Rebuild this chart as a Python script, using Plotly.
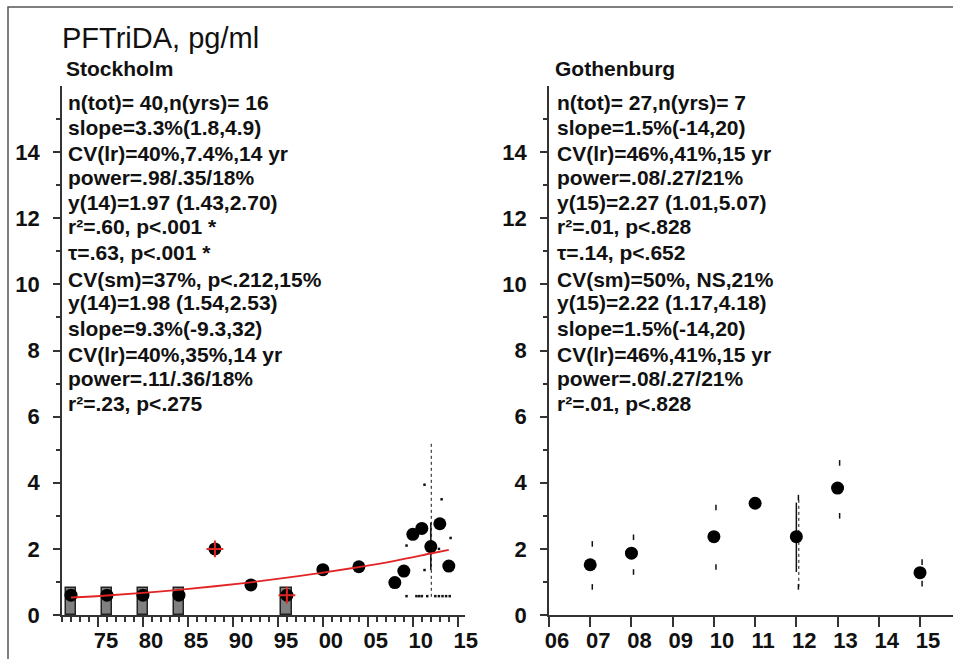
import plotly.graph_objects as go

# ---- data (PFTriDA, pg/ml) ----
# Stockholm yearly means
sth_years = [1972, 1976, 1980, 1984, 1988, 1992, 1996, 2000, 2004,
             2008, 2009, 2010, 2011, 2012, 2013, 2014]
sth_means = [0.60, 0.60, 0.60, 0.60, 2.00, 0.91, 0.60, 1.37, 1.46,
             0.98, 1.33, 2.44, 2.62, 2.07, 2.76, 1.48]
# grey bars (years below LOQ)
sth_loq_years = [1972, 1976, 1980, 1984, 1996]
sth_loq_vals = [0.82, 0.82, 0.82, 0.82, 0.82]
# points marked with a red cross
sth_flag_years = [1988, 1996]
sth_flag_vals = [2.00, 0.60]
# red regression curve
sth_fit_years = [1972, 1976, 1980, 1984, 1988, 1992, 1996, 2000, 2004, 2008, 2012, 2014]
sth_fit_vals = [0.53, 0.59, 0.67, 0.76, 0.87, 0.99, 1.13, 1.28, 1.45, 1.64, 1.86, 1.97]
# 2012 spread: confidence interval and min/max of single samples
sth_ci_years = [2012, 2012]
sth_ci_vals = [1.36, 2.80]
sth_span_years = [2012.05, 2012.05]
sth_span_vals = [0.55, 5.20]
# single observations shown as tiny marks
sth_obs_years = [2009.3, 2011.3, 2011.3, 2013.2, 2014.2, 2012.9, 2009.3, 2010.4,
                 2010.7, 2011.0, 2011.6, 2012.5, 2012.9, 2013.3, 2013.7, 2014.1]
sth_obs_vals = [2.10, 3.94, 1.36, 3.50, 2.33, 2.00, 0.57, 0.57,
                0.57, 0.57, 0.57, 0.57, 0.57, 0.57, 0.57, 0.57]

# Gothenburg yearly means and interval marks
gbg_years = [2007, 2008, 2010, 2011, 2012, 2013, 2015]
gbg_means = [1.52, 1.87, 2.37, 3.38, 2.37, 3.84, 1.28]
gbg_hi = [2.15, 2.35, 3.25, None, 3.55, 4.60, 1.60]
gbg_lo = [0.85, 1.30, 1.45, None, 0.85, 3.00, 0.95]
gbg_ci_years = [2012, 2012]
gbg_ci_vals = [1.30, 3.40]

# axis ticks
y_ticks = [0, 2, 4, 6, 8, 10, 12, 14]
y_minor = [1, 3, 5, 7, 9, 11, 13, 15]
sth_xticks = [1975, 1980, 1985, 1990, 1995, 2000, 2005, 2010, 2015]
sth_xlabels = ["75", "80", "85", "90", "95", "00", "05", "10", "15"]
gbg_xticks = [2006, 2007, 2008, 2009, 2010, 2011, 2012, 2013, 2014, 2015]
gbg_xlabels = ["06", "07", "08", "09", "10", "11", "12", "13", "14", "15"]

sth_stats = ["n(tot)= 40,n(yrs)= 16", "slope=3.3%(1.8,4.9)", "CV(lr)=40%,7.4%,14 yr",
             "power=.98/.35/18%", "y(14)=1.97 (1.43,2.70)", "r²=.60, p<.001 *",
             "τ=.63, p<.001 *", "CV(sm)=37%, p<.212,15%", "y(14)=1.98 (1.54,2.53)",
             "slope=9.3%(-9.3,32)", "CV(lr)=40%,35%,14 yr", "power=.11/.36/18%",
             "r²=.23, p<.275"]
gbg_stats = ["n(tot)= 27,n(yrs)= 7", "slope=1.5%(-14,20)", "CV(lr)=46%,41%,15 yr",
             "power=.08/.27/21%", "y(15)=2.27 (1.01,5.07)", "r²=.01, p<.828",
             "τ=.14, p<.652", "CV(sm)=50%, NS,21%", "y(15)=2.22 (1.17,4.18)",
             "slope=1.5%(-14,20)", "CV(lr)=46%,41%,15 yr", "power=.08/.27/21%",
             "r²=.01, p<.828"]

W, H = 953, 659
FONT = "Liberation Sans, Arial, sans-serif"
AX = "#333333"


def px(x):
    return x / W


def py(y):
    return 1 - y / H


fig = go.Figure()

# ---- Stockholm ----
fig.add_trace(go.Bar(x=sth_loq_years, y=sth_loq_vals, width=1.2,
                     marker=dict(color="#808080", line=dict(color="#222222", width=1.5)),
                     xaxis="x", yaxis="y"))
fig.add_trace(go.Scatter(x=sth_span_years, y=sth_span_vals, mode="lines",
                         line=dict(color="#111111", width=1, dash="dot"),
                         xaxis="x", yaxis="y"))
fig.add_trace(go.Scatter(x=sth_ci_years, y=sth_ci_vals, mode="lines",
                         line=dict(color="#111111", width=1.5), xaxis="x", yaxis="y"))
fig.add_trace(go.Scatter(x=sth_obs_years, y=sth_obs_vals, mode="markers",
                         marker=dict(symbol="square", size=2.5, color="#111111"),
                         xaxis="x", yaxis="y"))
fig.add_trace(go.Scatter(x=sth_years, y=sth_means, mode="markers",
                         marker=dict(size=13, color="#000000"), xaxis="x", yaxis="y"))
fig.add_trace(go.Scatter(x=sth_fit_years, y=sth_fit_vals, mode="lines",
                         line=dict(color="#e32424", width=1.8, shape="spline"),
                         xaxis="x", yaxis="y"))
fig.add_trace(go.Scatter(x=sth_flag_years, y=sth_flag_vals, mode="markers",
                         marker=dict(symbol="cross-thin", size=12,
                                     line=dict(color="#e32424", width=2)),
                         xaxis="x", yaxis="y"))

# ---- Gothenburg ----
fig.add_trace(go.Scatter(x=[y + 0.05 for y in gbg_years] * 2, y=gbg_hi + gbg_lo,
                         mode="markers",
                         marker=dict(symbol="line-ns", size=4,
                                     line=dict(color="#111111", width=1.5)),
                         xaxis="x2", yaxis="y2"))
fig.add_trace(go.Scatter(x=[2012.06, 2012.06], y=[gbg_lo[4], gbg_hi[4]], mode="lines",
                         line=dict(color="#111111", width=1, dash="dot"),
                         xaxis="x2", yaxis="y2"))
fig.add_trace(go.Scatter(x=gbg_ci_years, y=gbg_ci_vals, mode="lines",
                         line=dict(color="#111111", width=1.5), xaxis="x2", yaxis="y2"))
fig.add_trace(go.Scatter(x=gbg_years, y=gbg_means, mode="markers",
                         marker=dict(size=13, color="#000000"), xaxis="x2", yaxis="y2"))

tickfont = dict(family=FONT, size=22, color="#111111", weight="bold")
ydom = [py(615), py(86)]


def yaxis(anchor):
    return dict(domain=ydom, anchor=anchor, range=[0, 16], showline=True,
                linecolor=AX, linewidth=1.5, ticks="outside", ticklen=7,
                tickwidth=1.5, tickcolor=AX, tickvals=y_ticks, tickfont=tickfont,
                ticklabelstandoff=9, showgrid=False, zeroline=False, automargin=False,
                minor=dict(tickvals=y_minor, ticks="outside", ticklen=4,
                           tickwidth=1.5, tickcolor=AX))


fig.update_layout(
    width=W, height=H, template="none", showlegend=False,
    margin=dict(l=0, r=0, t=0, b=0),
    paper_bgcolor="white", plot_bgcolor="white",
    xaxis=dict(domain=[px(62), px(465)], anchor="y", range=[1971, 2015.8],
               showline=True, linecolor=AX, linewidth=1.5, ticks="outside",
               ticklen=10, tickwidth=1.5, tickcolor=AX, tickvals=sth_xticks,
               ticktext=sth_xlabels, tickfont=tickfont, ticklabelshift=8,
               ticklabelstandoff=-5, showgrid=False, zeroline=False, automargin=False,
               minor=dict(dtick=1, tick0=1971, ticks="outside", ticklen=5,
                          tickwidth=1.5, tickcolor=AX)),
    yaxis=yaxis("x"),
    xaxis2=dict(domain=[px(549), 1.0], anchor="y2", range=[2006, 2015.8],
                showline=True, linecolor=AX, linewidth=1.5, ticks="outside",
                ticklen=10, tickwidth=1.5, tickcolor=AX, tickvals=gbg_xticks,
                ticktext=gbg_xlabels, tickfont=tickfont, ticklabelshift=8,
                ticklabelstandoff=-5, showgrid=False, zeroline=False, automargin=False),
    yaxis2=yaxis("x2"),
    bargap=0,
)

# frame around the picture
fig.add_shape(type="rect", xref="paper", yref="paper",
              x0=px(8), y0=-0.05, x1=1.05, y1=py(7),
              line=dict(color="#555555", width=1.5))

annots = [
    dict(x=px(60), y=py(38), text="PFTriDA, pg/ml",
         font=dict(family=FONT, size=29, color="#111111")),
    dict(x=px(64), y=py(68), text="Stockholm",
         font=dict(family=FONT, size=21, color="#111111", weight="bold")),
    dict(x=px(553), y=py(68), text="Gothenburg",
         font=dict(family=FONT, size=21, color="#111111", weight="bold")),
]
line_y = [102, 127, 154, 178, 202, 226, 252, 279, 303, 328, 354, 378, 403]
for x0, lines in ((66, sth_stats), (555, gbg_stats)):
    for yy, txt in zip(line_y, lines):
        annots.append(dict(x=px(x0), y=py(yy), text=txt,
                           font=dict(family=FONT, size=21, color="#111111", weight="bold")))
for a in annots:
    a.update(xref="paper", yref="paper", xanchor="left", yanchor="middle", showarrow=False)
fig.update_layout(annotations=annots)

# the page is exactly the figure size: drop the default body margin
fig.write_html("out.html", config={"displayModeBar": False},
               post_script="document.body.style.margin='0';"
                           "document.body.style.overflow='hidden';")
